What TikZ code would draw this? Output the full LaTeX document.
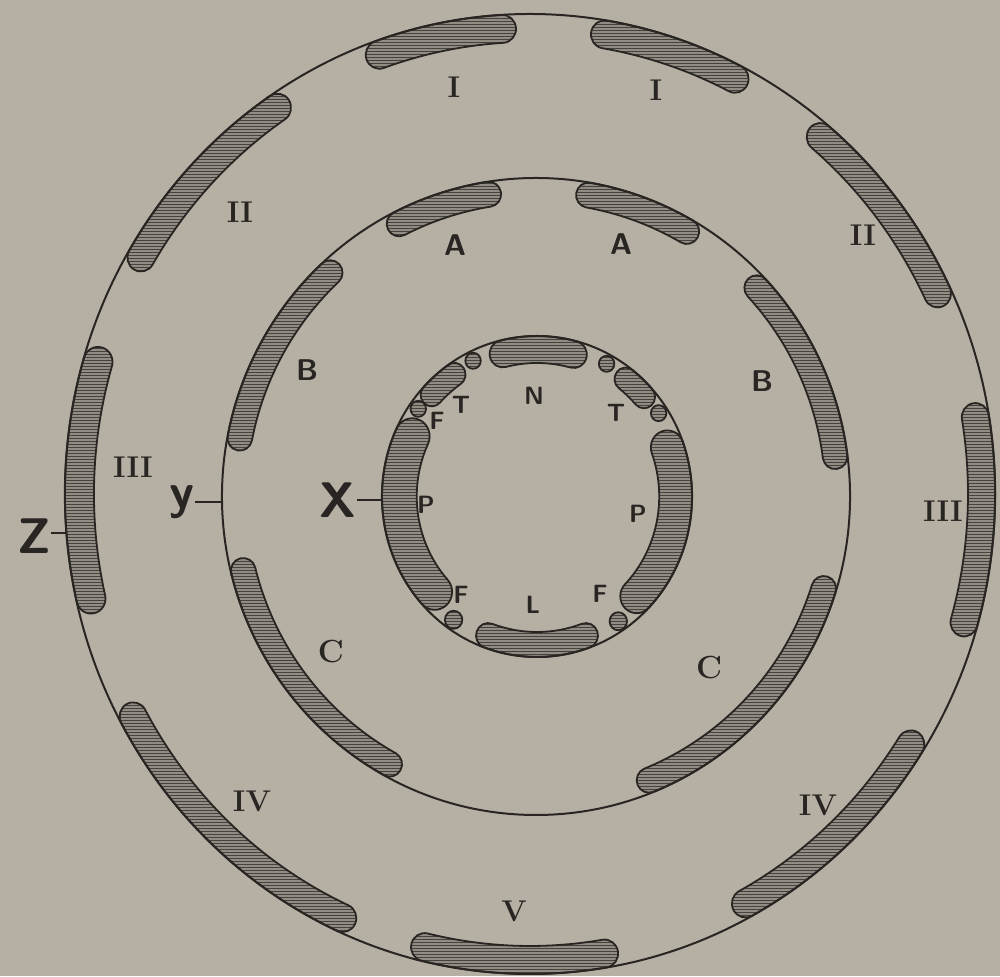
\documentclass[tikz,border=0pt]{standalone}
\usepackage{fontspec}
\usetikzlibrary{patterns}
\definecolor{bg}{RGB}{182,176,164}
\definecolor{bandgray}{RGB}{146,141,132}
\definecolor{hatch}{RGB}{70,66,60}
\definecolor{ink}{RGB}{40,37,34}
\tikzset{
  bandstyle/.style={preaction={fill=bandgray}, pattern=horizontal lines, pattern color=hatch, draw=ink, line width=1.8pt},
  ringline/.style={draw=ink, line width=2pt},
  roman/.style={text=ink, inner sep=0pt, font=\bfseries\fontsize{30}{30}\selectfont},
  capsans/.style={text=ink, inner sep=0pt, font=\sffamily\bfseries\fontsize{30}{30}\selectfont},
  capserif/.style={text=ink, inner sep=0pt, font=\bfseries\fontsize{32}{32}\selectfont},
  small/.style={text=ink, inner sep=0pt, font=\sffamily\bfseries\fontsize{25}{25}\selectfont},
  biglab/.style={text=ink, inner sep=0pt, font=\sffamily\bfseries\fontsize{50}{50}\selectfont},
  pointer/.style={draw=ink, line width=1.8pt}
}
\newcommand{\myband}[4]{%
  \pgfmathsetmacro\bandRi{#1-#2}%
  \pgfmathsetmacro\bandRc{#2/2}%
  \path[bandstyle] (#3:#1pt) arc[start angle=#3, end angle=#4, radius=#1pt]
    arc[start angle=#4, end angle=#4+180, radius=\bandRc pt]
    arc[start angle=#4, end angle=#3, radius=\bandRi pt]
    arc[start angle=#3+180, end angle=#3+360, radius=\bandRc pt] -- cycle;}
\newcommand{\mydot}[3]{%
  \path[bandstyle] (#2:#1pt) circle[radius=#3pt];}
\begin{document}
\begin{tikzpicture}[x=1pt,y=1pt]
\useasboundingbox (0,0) rectangle (1000,976);
\fill[bg] (0,0) rectangle (1000,976);
% outer ring
\begin{scope}[shift={(530,482)}, xscale=0.969]
  \myband{480}{28}{93.5}{109.5}
  \myband{480}{28}{63}{80.5}
  \myband{480}{28}{124}{149.5}
  \myband{480}{28}{25.5}{50}
  \myband{480}{30}{163.5}{193}
  \myband{480}{28}{-16}{9.5}
  \myband{480}{28}{208.5}{245.5}
  \myband{480}{28}{-61.5}{-32.5}
  \myband{480}{28}{256.5}{279.5}
  \draw[ringline] (0,0) circle[radius=480pt];
  \coordinate (zc) at (184.7:480pt);
\end{scope}
% middle ring
\begin{scope}[shift={(536,479.5)}, xscale=0.986]
  \myband{318.5}{25}{99}{117}
  \myband{318.5}{25}{60}{80}
  \myband{318.5}{25}{133}{169}
  \myband{318.5}{25}{7.5}{43}
  \myband{318.5}{25}{194}{241}
  \myband{318.5}{25}{-68}{-17.5}
  \draw[ringline] (0,0) circle[radius=318.5pt];
  \coordinate (yc) at (181:318.5pt);
\end{scope}
% inner ring
\begin{scope}[shift={(537,479.5)}, xscale=0.966]
  \myband{160.5}{27}{75}{104}
  \myband{160.5}{23}{125}{137}
  \myband{160.5}{23}{42}{52}
  \myband{160.5}{36}{155}{222}
  \myband{160.5}{34}{-44}{20}
  \myband{160.5}{25}{250}{290}
  \mydot{151}{116}{8}
  \mydot{151}{61.5}{8}
  \mydot{151}{144.5}{8}
  \mydot{151}{33.5}{8}
  \mydot{150.5}{235}{9}
  \mydot{150.5}{-56}{9}
  \draw[ringline] (0,0) circle[radius=160.5pt];
  \coordinate (xc) at (181.3:160.5pt);
\end{scope}
% roman numerals
\node[roman] (i1) at (454,889) {I};
\node[roman] (i2) at (656,886) {I};
\node[roman] (ii1) at (240,764) {II};
\node[roman] (ii2) at (863,741) {II};
\node[roman] (iii1) at (133,509) {III};
\node[roman] (iii2) at (943,465) {III};
\node[roman] (iv1) at (252,175) {IV};
\node[roman] (iv2) at (818,171) {IV};
\node[roman] (v) at (514,65) {V};
% middle ring letters
\node[capsans] (a1) at (455,731) {A};
\node[capsans] (a2) at (621,732) {A};
\node[capsans] (b1) at (307,606) {B};
\node[capsans] (b2) at (762,595) {B};
\node[capserif] (c1) at (331,324) {C};
\node[capserif] (c2) at (709,308) {C};
% inner letters
\node[small] (n) at (534,580) {N};
\node[small] (t1) at (461,571) {T};
\node[small] (f1) at (437,555) {F};
\node[small] (t2) at (616,563) {T};
\node[small] (p1) at (426,471) {P};
\node[small] (p2) at (638,462) {P};
\node[small] (f2) at (461,381) {F};
\node[small] (l) at (533,371) {L};
\node[small] (f3) at (600,382) {F};
% pointers
\node[biglab] (X) at (338,476) {X};
\node[biglab] (Y) at (182,474) {y};
\node[biglab] (Z) at (34,440) {Z};
\draw[pointer] (xc) -- (xc -| X.east);
\draw[pointer] (yc) -- (yc -| Y.east);
\draw[pointer] (zc) -- (zc -| Z.east);
\end{tikzpicture}
\end{document}
